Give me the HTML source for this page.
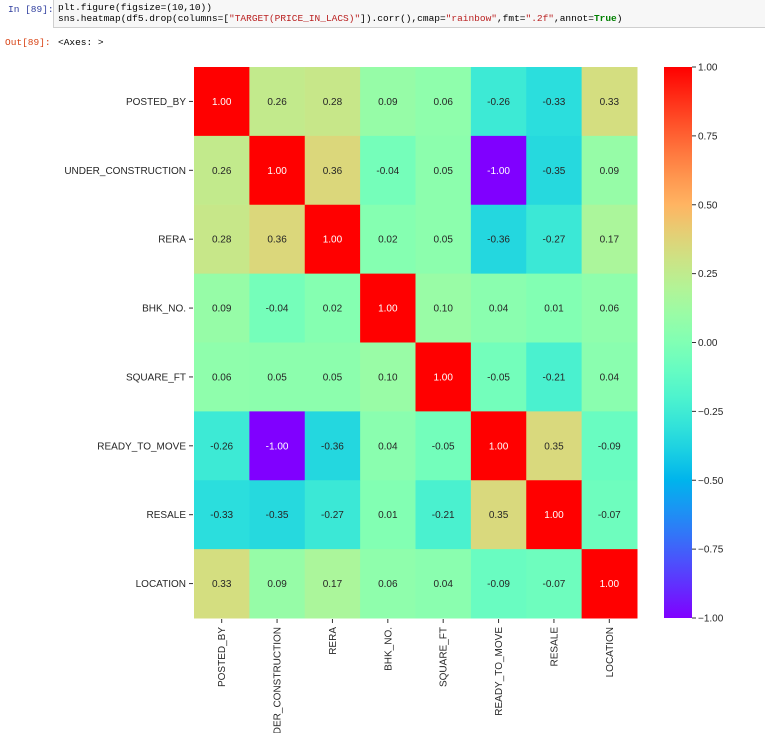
<!DOCTYPE html>
<html><head><meta charset="utf-8"><style>
body{margin:0;width:765px;height:733px;background:#fff;overflow:hidden;font-family:"Liberation Sans",sans-serif;position:relative}
.prompt{position:absolute;font-family:"Liberation Mono",monospace;font-size:9.5px}
#code{position:absolute;left:53px;top:-1px;width:720px;height:29px;background:#f7f7f7;border:1px solid #cfcfcf;font-family:"Liberation Mono",monospace;font-size:9.5px;line-height:11px;padding:2px 4px;box-sizing:border-box;color:#000}
</style></head><body>
<div class="prompt" style="left:8px;top:4px;color:#303f9f">In [89]:</div>
<div id="code">plt.figure(figsize=(10,10))<br>sns.heatmap(df5.drop(columns=[<span style="color:#ba2121">"TARGET(PRICE_IN_LACS)"</span>]).corr(),cmap=<span style="color:#ba2121">"rainbow"</span>,fmt=<span style="color:#ba2121">".2f"</span>,annot=<b style="color:#008000">True</b>)</div>
<div class="prompt" style="left:5px;top:37px;color:#d84315">Out[89]:</div>
<div class="prompt" style="left:58px;top:37px;color:#000">&lt;Axes: &gt;</div>
<svg id="chart" width="765" height="733" style="position:absolute;left:0;top:0"></svg>
<script>
const labels=["POSTED_BY","UNDER_CONSTRUCTION","RERA","BHK_NO.","SQUARE_FT","READY_TO_MOVE","RESALE","LOCATION"];
const row0=[1.00,0.26,0.28,0.09,0.06,-0.26,-0.33,0.33];
const row1=[0.26,1.00,0.36,-0.04,0.05,-1.00,-0.35,0.09];
const row2=[0.28,0.36,1.00,0.02,0.05,-0.36,-0.27,0.17];
const row3=[0.09,-0.04,0.02,1.00,0.10,0.04,0.01,0.06];
const row4=[0.06,0.05,0.05,0.10,1.00,-0.05,-0.21,0.04];
const row5=[-0.26,-1.00,-0.36,0.04,-0.05,1.00,0.35,-0.09];
const row6=[-0.33,-0.35,-0.27,0.01,-0.21,0.35,1.00,-0.07];
const row7=[0.33,0.09,0.17,0.06,0.04,-0.09,-0.07,1.00];
const matrix=[row0,row1,row2,row3,row4,row5,row6,row7];
const cbTicks=[1.00,0.75,0.50,0.25,0.00,-0.25,-0.50,-0.75,-1.00];
const NS="http://www.w3.org/2000/svg";
const svg=document.getElementById('chart');
const X0=194,X1=637,Y0=67,Y1=618;
const cw=(X1-X0)/labels.length,ch=(Y1-Y0)/labels.length;
const xPos=i=>X0+i*cw, yPos=i=>Y0+i*ch;
const vmin=-1,vmax=1;
function rainbow(v){const x=Math.max(0,Math.min(1,(v-vmin)/(vmax-vmin)));
 const c=t=>Math.max(0,Math.min(1,t));
 return [c(Math.abs(2*x-0.5)),c(Math.sin(Math.PI*x)),c(Math.cos(Math.PI*x/2))];}
const css=c=>`rgb(${c.map(t=>Math.round(t*255)).join(',')})`;
function lum(c){const l=c.map(t=>t<=0.03928?t/12.92:Math.pow((t+0.055)/1.055,2.4));return 0.2126*l[0]+0.7152*l[1]+0.0722*l[2];}
function mk(tag,attrs,parent){const e=document.createElementNS(NS,tag);for(const k in attrs)e.setAttribute(k,attrs[k]);(parent||svg).appendChild(e);return e;}
matrix.forEach((row,r)=>row.forEach((v,c)=>{
 const col=rainbow(v);
 const rect=mk('rect',{x:xPos(c),y:yPos(r),width:cw+0.5,height:ch+0.5,fill:css(col)});
 
 
 const t=mk('text',{x:xPos(c)+cw/2,y:yPos(r)+ch/2+3.5,'text-anchor':'middle','font-size':'10','fill':lum(col)>0.408?'#262626':'#fff'});
 t.textContent=v.toFixed(2);
 
 
}));
labels.forEach((lab,i)=>{
 const y=yPos(i)+ch/2;
 mk('line',{x1:189,x2:193,y1:y,y2:y,stroke:'#333','stroke-width':1});
 const t=mk('text',{x:186,y:y+3.5,'text-anchor':'end','font-size':'10','fill':'#262626'});
 t.textContent=lab;
 
 
 const x=xPos(i)+cw/2;
 mk('line',{x1:x,x2:x,y1:Y1+1,y2:Y1+5,stroke:'#333','stroke-width':1});
 const tx=mk('text',{x:0,y:0,'text-anchor':'end','font-size':'10','fill':'#262626',transform:`translate(${x+3.5},${Y1+9}) rotate(-90)`});
 tx.textContent=lab;
 
 
});
// colorbar
const CB0=664,CB1=692;
const defs=mk('defs',{});
const g=mk('linearGradient',{id:'cbg',x1:0,y1:1,x2:0,y2:0},defs);
for(let i=0;i<=20;i++){const v=vmin+(vmax-vmin)*i/20;mk('stop',{offset:i/20,'stop-color':css(rainbow(v))},g);}
const cb=mk('rect',{x:CB0,y:Y0,width:CB1-CB0,height:Y1-Y0,fill:'url(#cbg)'});


const cbY=v=>Y1-(v-vmin)/(vmax-vmin)*(Y1-Y0);
cbTicks.forEach(v=>{
 const y=cbY(v);
 mk('line',{x1:CB1,x2:CB1+4,y1:y,y2:y,stroke:'#333','stroke-width':1});
 const t=mk('text',{x:CB1+6,y:y+3.5,'font-size':'10','fill':'#262626'});
 t.textContent=(v<0?'\u2212':'')+Math.abs(v).toFixed(2);
 
 
});
</script>
</body></html>
